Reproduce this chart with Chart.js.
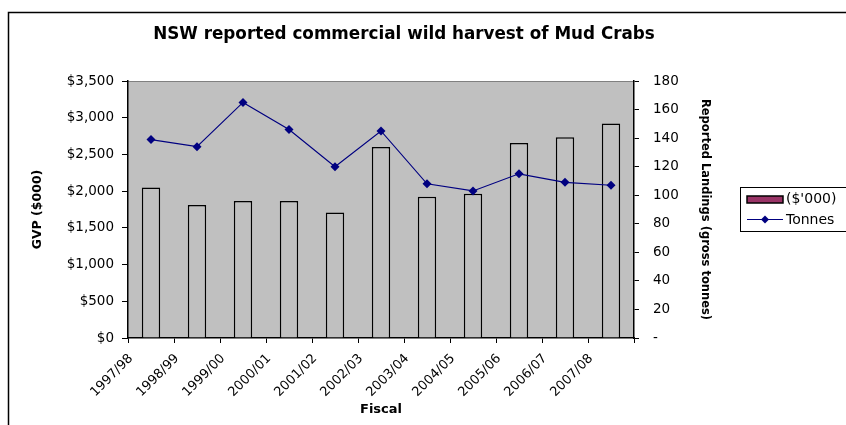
<!DOCTYPE html>
<html>
<head>
<meta charset="utf-8">
<title>NSW Mud Crabs</title>
<script src="https://cdn.jsdelivr.net/npm/chart.js@4.4.1/dist/chart.umd.min.js"></script>
<style>
  html, body { margin: 0; padding: 0; background: #fff; }
  canvas { display: block; }
</style>
</head>
<body>
<canvas id="crabChart" width="846" height="425"></canvas>
<script>
// Fiscal years and the two series
var fiscalYears = ['1997/98', '1998/99', '1999/00', '2000/01', '2001/02', '2002/03',
                   '2003/04', '2004/05', '2005/06', '2006/07', '2007/08'];
var gvpValues = [2050, 1810, 1865, 1865, 1710, 2600, 1925, 1965, 2655, 2735, 2920];
var tonnesValues = [139, 134, 165, 146, 120, 145, 108, 103, 115, 109, 107];

var chartTitle = 'NSW reported commercial wild harvest of Mud Crabs';
var gvpLabel = "($'000)";
var tonnesLabel = 'Tonnes';

Chart.defaults.font.family = "'DejaVu Sans', sans-serif";
Chart.defaults.color = '#000';

// grey plot area, outer frame, title and boxed legend
var excelLook = {
    id: 'excelLook',
    beforeDraw: function (chart) {
        var ctx = chart.ctx, a = chart.chartArea;
        ctx.save();
        ctx.fillStyle = '#fff';
        ctx.fillRect(0, 0, chart.width, chart.height);
        ctx.fillStyle = '#c0c0c0';
        ctx.fillRect(a.left, a.top, a.right - a.left, a.bottom - a.top);
        ctx.strokeStyle = '#808080';
        ctx.lineWidth = 1;
        ctx.beginPath();
        ctx.moveTo(a.left, a.top + 0.5);
        ctx.lineTo(a.right, a.top + 0.5);
        ctx.stroke();
        ctx.restore();
    },
    afterDraw: function (chart) {
        var ctx = chart.ctx;
        ctx.save();
        // outer frame
        ctx.strokeStyle = '#000';
        ctx.lineWidth = 1.5;
        ctx.beginPath();
        ctx.moveTo(8.5, chart.height + 2);
        ctx.lineTo(8.5, 12.5);
        ctx.lineTo(chart.width + 2, 12.5);
        ctx.stroke();

        // title
        ctx.fillStyle = '#000';
        ctx.font = "bold 16.8px 'DejaVu Sans', sans-serif";
        ctx.textAlign = 'center';
        ctx.textBaseline = 'middle';
        ctx.fillText(chartTitle, 404, 35);

        // legend
        var lx = 740.5, ly = 187.5;
        ctx.lineWidth = 1;
        ctx.strokeStyle = '#000';
        ctx.strokeRect(lx, ly, 120, 44);
        ctx.fillStyle = '#993366';
        ctx.fillRect(747, 196, 36, 7);
        ctx.lineWidth = 1.5;
        ctx.strokeRect(747, 196, 36, 7);

        ctx.strokeStyle = '#000080';
        ctx.lineWidth = 1.2;
        ctx.beginPath();
        ctx.moveTo(747, 219.5);
        ctx.lineTo(783, 219.5);
        ctx.stroke();
        ctx.fillStyle = '#000080';
        ctx.beginPath();
        ctx.moveTo(765, 215.5);
        ctx.lineTo(769, 219.5);
        ctx.lineTo(765, 223.5);
        ctx.lineTo(761, 219.5);
        ctx.closePath();
        ctx.fill();

        ctx.fillStyle = '#000';
        ctx.font = "14px 'DejaVu Sans', sans-serif";
        ctx.textAlign = 'left';
        ctx.fillText(gvpLabel, 786, 199.5);
        ctx.fillText(tonnesLabel, 786, 220);
        ctx.restore();
    }
};

var ctx = document.getElementById('crabChart').getContext('2d');
var crabChart = new Chart(ctx, {
    type: 'bar',
    data: {
        labels: fiscalYears,
        datasets: [{
            type: 'line',
            label: tonnesLabel,
            data: tonnesValues,
            yAxisID: 'y1',
            borderColor: '#000080',
            borderWidth: 1.2,
            backgroundColor: '#000080',
            pointStyle: 'rectRot',
            pointRadius: 4.5,
            pointBorderWidth: 0,
            tension: 0,
            order: 0
        }, {
            type: 'bar',
            label: gvpLabel,
            data: gvpValues,
            yAxisID: 'y',
            backgroundColor: '#c0c0c0',
            borderColor: '#000',
            borderWidth: 1.5,
            barPercentage: 0.4,
            categoryPercentage: 1,
            order: 1
        }]
    },
    options: {
        responsive: false,
        animation: false,
        devicePixelRatio: 1,
        layout: { padding: { left: 0, top: 81, right: 127, bottom: 0 } },
        plugins: {
            legend: { display: false },
            title: { display: false },
            tooltip: { enabled: false }
        },
        scales: {
            x: {
                offset: true,
                grid: {
                    offset: true,
                    drawOnChartArea: false,
                    tickLength: 5,
                    color: '#000'
                },
                border: { color: '#000', width: 1.5 },
                ticks: {
                    autoSkip: false,
                    minRotation: 45,
                    maxRotation: 45,
                    labelOffset: -20,
                    padding: 8,
                    font: { size: 13 }
                },
                title: {
                    display: true,
                    text: 'Fiscal',
                    font: { size: 13, weight: 'bold' },
                    padding: { top: 0, bottom: 8 }
                },
                afterFit: function (s) { s.height = 87; }
            },
            y: {
                position: 'left',
                min: 0,
                max: 3500,
                grid: { drawOnChartArea: false, tickLength: 6, color: '#000' },
                border: { color: '#000', width: 1.5 },
                ticks: {
                    stepSize: 500,
                    padding: 8,
                    font: { size: 13.5 },
                    callback: function (v) { return '$' + v.toLocaleString('en-US'); }
                },
                title: {
                    display: true,
                    text: 'GVP ($000)',
                    font: { size: 12.5, weight: 'bold' },
                    padding: { top: 30, bottom: 0 }
                },
                afterFit: function (s) { s.width = 128; }
            },
            y1: {
                position: 'right',
                min: 0,
                max: 180,
                grid: { drawOnChartArea: false, tickLength: 5, color: '#000' },
                border: { color: '#000', width: 1.5 },
                ticks: {
                    stepSize: 20,
                    padding: 14,
                    font: { size: 13.5 },
                    callback: function (v) { return v === 0 ? '-' : v; }
                },
                title: {
                    display: true,
                    text: 'Reported Landings (gross tonnes)',
                    font: { size: 11.5, weight: 'bold' },
                    padding: { top: 7, bottom: 0 }
                },
                afterFit: function (s) { s.width = 85; }
            }
        }
    },
    plugins: [excelLook]
});
</script>
</body>
</html>
